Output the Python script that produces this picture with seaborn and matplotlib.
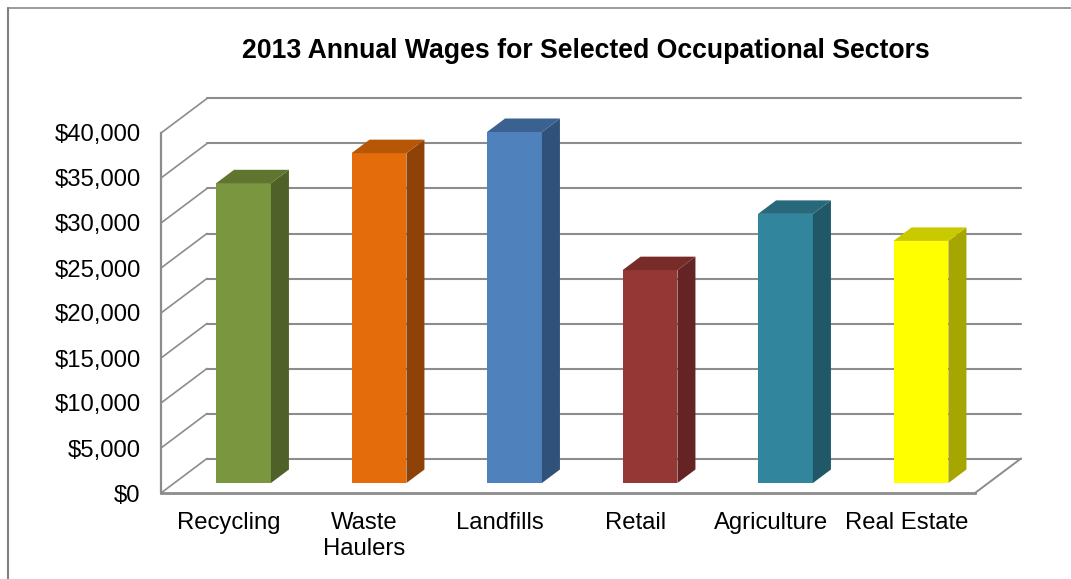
import matplotlib
matplotlib.use("Agg")
import matplotlib.pyplot as plt
from matplotlib.lines import Line2D
import pandas as pd
import seaborn as sns

# Wage data
sectors = ["Recycling", "Waste\nHaulers", "Landfills", "Retail", "Agriculture", "Real Estate"]
wages = [33300, 36650, 39000, 23650, 29900, 26900]
front_colors = ["#7A963F", "#E46C0A", "#4F81BD", "#953735", "#31859C", "#FFFF00"]
side_colors = ["#4F6128", "#8F4207", "#30527A", "#632423", "#205867", "#A6A600"]
top_colors = ["#5F7530", "#B65708", "#3A618F", "#772C2A", "#27697B", "#C9C900"]
ticks = list(range(0, 45000, 5000))
tick_labels = [f"${t:,}" for t in ticks]

W, H = 1071, 579
GREY = "#8C8C8C"
PX_PER_USD = 360 / 40000
BAR_W = 0.405

sns.set_theme(style="white")
plt.rcParams["font.family"] = ["Liberation Sans", "DejaVu Sans"]


def axes_from_pixels(fig, left, bottom, width, height):
    return fig.add_axes([left / W, 1 - bottom / H, width / W, height / H])


fig = plt.figure(figsize=(W / 100, H / 100), dpi=100, facecolor="white")

# Back wall and floor, with the value axis on the front edge
wall = axes_from_pixels(fig, 161, 493, 814, 360)
wall.set_facecolor("none")
wall.set_xlim(-0.5, 5.5)
wall.set_ylim(0, 40000)
wall.set_xticks(range(6), sectors)
wall.set_yticks(ticks, tick_labels)
wall.tick_params(axis="y", length=0, pad=14.6, labelsize=17.2, labelcolor="black")
wall.tick_params(axis="x", length=0, pad=14, labelsize=17.2, labelcolor="black")
for lab in wall.get_xticklabels():
    lab.set_linespacing(1.22)
sns.despine(ax=wall, top=True, right=True)
wall.spines["left"].set_color(GREY)
wall.spines["left"].set_linewidth(1.6)
wall.spines["bottom"].set_color(GREY)
wall.spines["bottom"].set_linewidth(2.0)

wall_dx = 46 / (814 / 6)
wall_dy = 34.5 / PX_PER_USD
for t in ticks:
    if t == 0:
        wall.plot([5.5, 5.5 + wall_dx], [0, wall_dy], color=GREY, lw=1.4, clip_on=False,
                  solid_capstyle="round")
    wall.plot([-0.5, -0.5 + wall_dx], [t, t + wall_dy], color=GREY, lw=1.2, clip_on=False)
    wall.plot([-0.5 + wall_dx, 5.5 + wall_dx], [t + wall_dy, t + wall_dy], color=GREY, lw=1.5,
              clip_on=False)

# Bars sit slightly inside the floor, so they use a shifted copy of the scale
bars = axes_from_pixels(fig, 175.75, 483, 813, 360)
bars.set_facecolor("none")
frame = pd.DataFrame({"sector": sectors, "wage": wages})
sns.barplot(data=frame, x="sector", y="wage", hue="sector", palette=front_colors,
            width=BAR_W, dodge=False, legend=False, saturation=1, linewidth=0, ax=bars, zorder=3)
bars.set_xlim(-0.5, 5.5)
bars.set_ylim(0, 40000)
bars.axis("off")

bar_dx = 18 / 135.5
bar_dy = 13.5 / PX_PER_USD
half = BAR_W / 2
for i, v in enumerate(wages):
    bars.fill([i + half, i + half + bar_dx, i + half + bar_dx, i + half],
              [0, bar_dy, v + bar_dy, v], color=side_colors[i], lw=0, clip_on=False, zorder=3)
    bars.fill([i - half, i - half + bar_dx, i + half + bar_dx, i + half],
              [v, v + bar_dy, v + bar_dy, v], color=top_colors[i], lw=0, clip_on=False, zorder=3)

fig.text(585.5 / W, 1 - 50.5 / H, "2013 Annual Wages for Selected Occupational Sectors",
         ha="center", va="center", fontsize=19.2, fontweight="bold", color="black")

# Chart frame running off the right and bottom edges
fig.add_artist(Line2D([8 / W, 1], [1 - 7.5 / H, 1 - 7.5 / H], color="#808080", lw=1.1))
fig.add_artist(Line2D([8 / W, 8 / W], [1 - 7.5 / H, 0], color="#808080", lw=1.5))

fig.savefig("out.png", dpi=100)
